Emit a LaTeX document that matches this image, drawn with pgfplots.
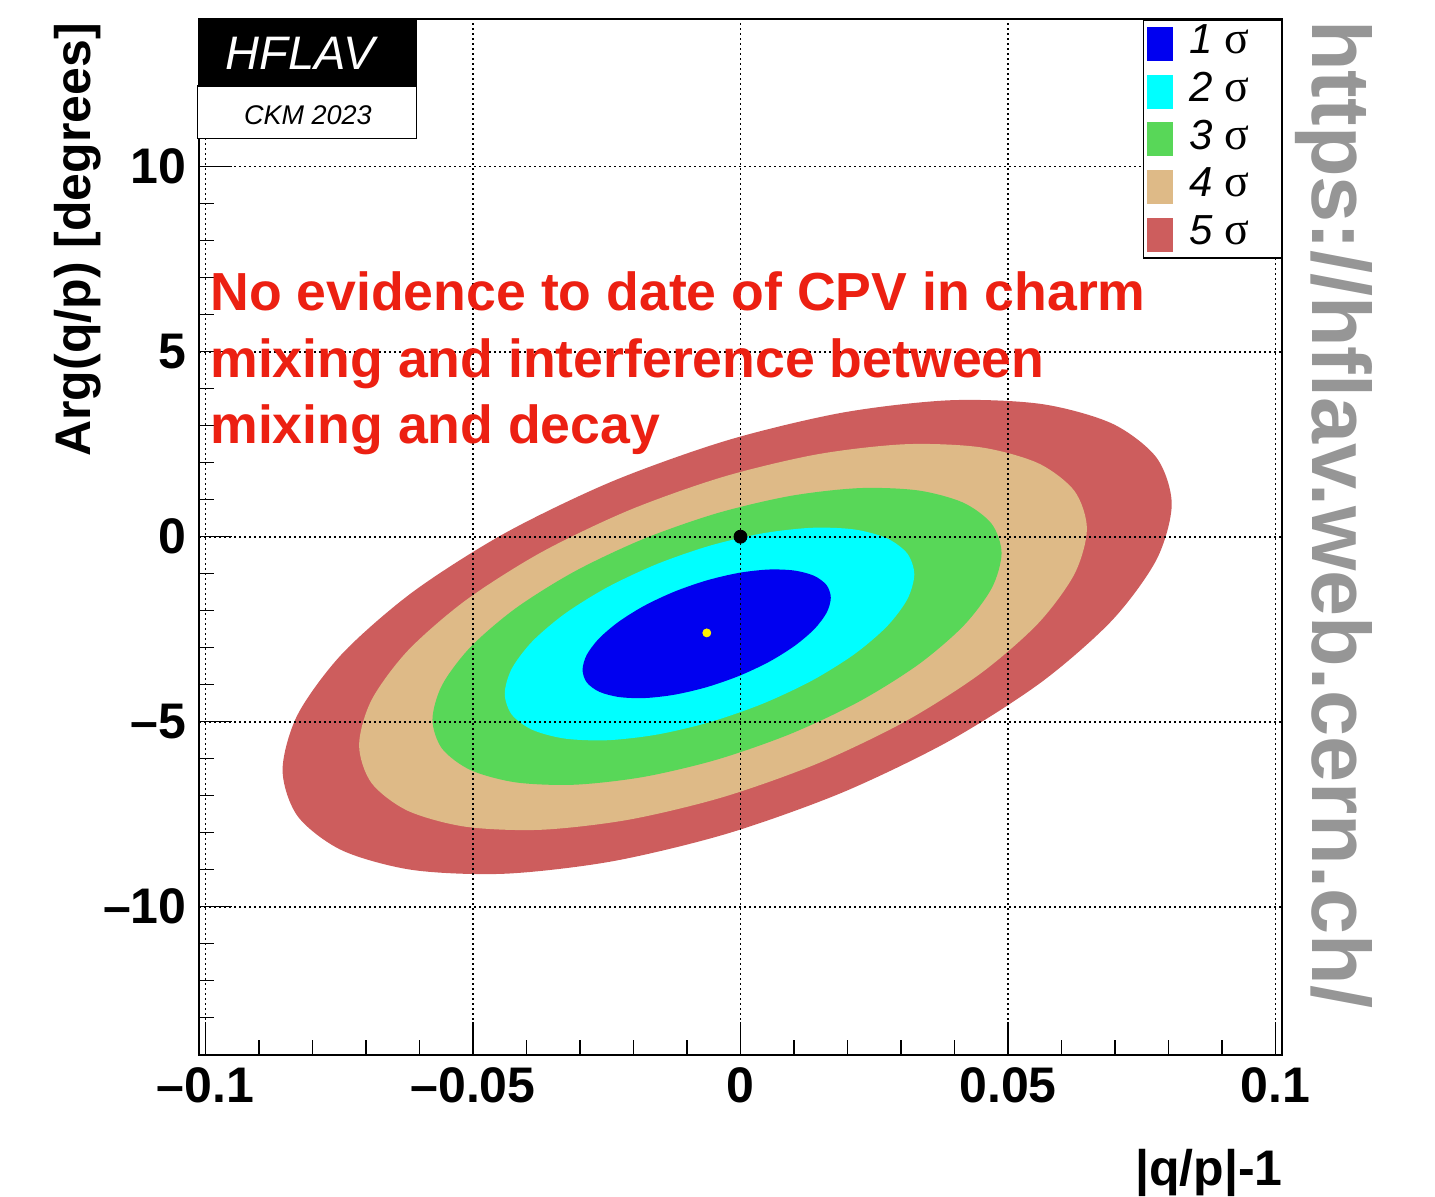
\documentclass[border=0pt]{standalone}
\usepackage{fontspec}
\setmainfont{Liberation Sans}
\newfontfamily\greekserif{Liberation Serif}
\usepackage{pgfplots}
\pgfplotsset{compat=1.18}
\definecolor{cone}{RGB}{0,0,240}
\definecolor{ctwo}{RGB}{0,255,255}
\definecolor{cthree}{RGB}{88,215,88}
\definecolor{cfour}{RGB}{222,186,135}
\definecolor{cfive}{RGB}{205,93,93}
\definecolor{txtred}{RGB}{236,32,18}
\definecolor{wmgray}{RGB}{150,150,150}
\begin{document}
\begin{tikzpicture}
\useasboundingbox (0,0) rectangle (717.5pt,-598.5pt);
\begin{axis}[
  at={(99.5pt,-527.35pt)}, anchor=south west,
  scale only axis, width=541.5pt, height=518pt,
  xmin=-0.1012, xmax=0.1012, ymin=-14, ymax=14,
  xtick={-0.1,-0.05,0,0.05,0.1},
  xticklabels={–0.1,–0.05,0,0.05,0.1},
  minor xtick={-0.09,-0.08,-0.07,-0.06,-0.04,-0.03,-0.02,-0.01,0.01,0.02,0.03,0.04,0.06,0.07,0.08,0.09},
  ytick={-10,-5,0,5,10},
  yticklabels={–10,–5,0,5,10},
  minor ytick={-13,-12,-11,-9,-8,-7,-6,-4,-3,-2,-1,1,2,3,4,6,7,8,9,11,12,13},
  tick pos=left, tick align=inside,
  major tick length=16.5pt, minor tick length=7.5pt,
  tick style={black, line width=0.75pt},
  axis line style={line width=1pt},
  grid=major,
  major grid style={black, line width=0.8pt, dash pattern=on 0.8pt off 1.7pt},
  axis on top,
  ticklabel style={font=\bfseries\fontsize{25}{29}\selectfont, inner sep=0pt},
  xticklabel style={yshift=-6pt},
  yticklabel style={xshift=-6pt},
  xlabel={|q/p|-1},
  ylabel={Arg(q/p) [degrees]},
  every axis x label/.style={at={(axis description cs:1.0009,-0.1258)}, anchor=base east, inner sep=0pt, font=\bfseries\fontsize{25}{29}\selectfont},
  every axis y label/.style={at={(axis description cs:-0.1006,0.996)}, rotate=90, anchor=base east, inner sep=0pt, font=\bfseries\fontsize{25}{29}\selectfont},
  every axis plot/.append style={smooth, tension=0.5},
]
% 5 sigma
\addplot[fill=cfive, draw=none] coordinates {
(0.08059,0.881) (0.07776,2.134) (0.06946,3.057) (0.05626,3.586) (0.03905,3.687) (0.01901,3.352) (-0.00250,2.603) (-0.02400,1.493) (-0.04404,0.095) (-0.06125,-1.494) (-0.07445,-3.164) (-0.08275,-4.805) (-0.08558,-6.303) (-0.08275,-7.556) (-0.07445,-8.479) (-0.06125,-9.008) (-0.04404,-9.109) (-0.02400,-8.774) (-0.00250,-8.025) (0.01901,-6.915) (0.03905,-5.517) (0.05626,-3.928) (0.06946,-2.258) (0.07776,-0.617) (0.08059,0.881) (0.07776,2.134) (0.06946,3.057)};
% 4 sigma
\addplot[fill=cfour, draw=none] coordinates {
(0.06474,0.214) (0.06242,1.234) (0.05563,1.986) (0.04482,2.417) (0.03074,2.499) (0.01433,2.226) (-0.00327,1.616) (-0.02087,0.712) (-0.03728,-0.426) (-0.05136,-1.720) (-0.06217,-3.080) (-0.06896,-4.416) (-0.07128,-5.636) (-0.06896,-6.656) (-0.06217,-7.408) (-0.05136,-7.839) (-0.03728,-7.921) (-0.02087,-7.648) (-0.00327,-7.038) (0.01433,-6.134) (0.03074,-4.996) (0.04482,-3.702) (0.05563,-2.342) (0.06242,-1.006) (0.06474,0.214) (0.06242,1.234) (0.05563,1.986)};
% 3 sigma
\addplot[fill=cthree, draw=none] coordinates {
(0.04879,-0.445) (0.04698,0.340) (0.04166,0.918) (0.03321,1.250) (0.02220,1.313) (0.00937,1.103) (-0.00439,0.634) (-0.01815,-0.062) (-0.03098,-0.937) (-0.04199,-1.932) (-0.05044,-2.979) (-0.05576,-4.007) (-0.05757,-4.945) (-0.05576,-5.730) (-0.05044,-6.308) (-0.04199,-6.640) (-0.03098,-6.703) (-0.01815,-6.493) (-0.00439,-6.024) (0.00937,-5.328) (0.02220,-4.453) (0.03321,-3.458) (0.04166,-2.411) (0.04698,-1.383) (0.04879,-0.445) (0.04698,0.340) (0.04166,0.918)};
% 2 sigma
\addplot[fill=ctwo, draw=none] coordinates {
(0.03248,-1.018) (0.03118,-0.456) (0.02735,-0.042) (0.02127,0.196) (0.01335,0.241) (0.00411,0.090) (-0.00579,-0.246) (-0.01569,-0.744) (-0.02493,-1.371) (-0.03285,-2.084) (-0.03893,-2.833) (-0.04276,-3.570) (-0.04406,-4.242) (-0.04276,-4.804) (-0.03893,-5.218) (-0.03285,-5.456) (-0.02493,-5.501) (-0.01569,-5.350) (-0.00579,-5.014) (0.00411,-4.516) (0.01335,-3.889) (0.02127,-3.176) (0.02735,-2.427) (0.03118,-1.690) (0.03248,-1.018) (0.03118,-0.456) (0.02735,-0.042)};
% 1 sigma
\addplot[fill=cone, draw=none] coordinates {
(0.01688,-1.649) (0.01609,-1.309) (0.01377,-1.058) (0.01008,-0.915) (0.00528,-0.887) (-0.00032,-0.978) (-0.00632,-1.182) (-0.01232,-1.483) (-0.01792,-1.862) (-0.02272,-2.294) (-0.02641,-2.747) (-0.02873,-3.192) (-0.02952,-3.599) (-0.02873,-3.939) (-0.02641,-4.190) (-0.02272,-4.333) (-0.01792,-4.361) (-0.01232,-4.270) (-0.00632,-4.066) (-0.00032,-3.765) (0.00528,-3.386) (0.01008,-2.954) (0.01377,-2.501) (0.01609,-2.056) (0.01688,-1.649) (0.01609,-1.309) (0.01377,-1.058)};
% Standard model point and best fit
\addplot[only marks, mark=*, mark size=3.25pt, black] coordinates {(0,0)};
\addplot[only marks, mark=*, mark size=2pt, yellow] coordinates {(-0.0063,-2.6)};
\end{axis}
\begin{scope}[x=0.5pt,y=-0.5pt]
% HFLAV logo
\fill[black] (197.5,20) rectangle (416.5,86);
\filldraw[fill=white, draw=black, line width=0.75pt] (197.5,86) rectangle (416.5,138.3);
\node[white, inner sep=0pt, anchor=base, font=\itshape\fontsize{23.5}{26}\selectfont] at (300,70) {HFLAV};
\node[inner sep=0pt, anchor=base, font=\itshape\fontsize{13.5}{16}\selectfont] at (308,125) {CKM 2023};
% legend
\filldraw[fill=white, draw=black, line width=0.75pt] (1143.3,20) rectangle (1281.7,258);
\foreach \c/\n [count=\i from 0] in {cone/1,ctwo/2,cthree/3,cfour/4,cfive/5} {
  \fill[\c] (1147,{26.7+47.9*\i}) rectangle (1173,{60.7+47.9*\i});
  \node[anchor=base west, inner sep=0pt] at (1189,{53.3+47.9*\i}) {\fontsize{21}{22}\selectfont\textit{\n}\ {\greekserif\fontsize{23}{24}\selectfont σ}};
}
% annotation
\node[anchor=base west, inner sep=0pt, text=txtred, font=\bfseries\fontsize{26.8}{30}\selectfont] at (210,310.7) {No evidence to date of CPV in charm};
\node[anchor=base west, inner sep=0pt, text=txtred, font=\bfseries\fontsize{26.8}{30}\selectfont] at (210,378) {mixing and interference between};
\node[anchor=base west, inner sep=0pt, text=txtred, font=\bfseries\fontsize{26.8}{30}\selectfont] at (210,444) {mixing and decay};
% watermark
\node[rotate=-90, anchor=base west, inner sep=0pt, text=wmgray, font=\bfseries\fontsize{41.4}{45}\selectfont] at (1312,20) {https://hflav.web.cern.ch/};
\end{scope}
\end{tikzpicture}
\end{document}
